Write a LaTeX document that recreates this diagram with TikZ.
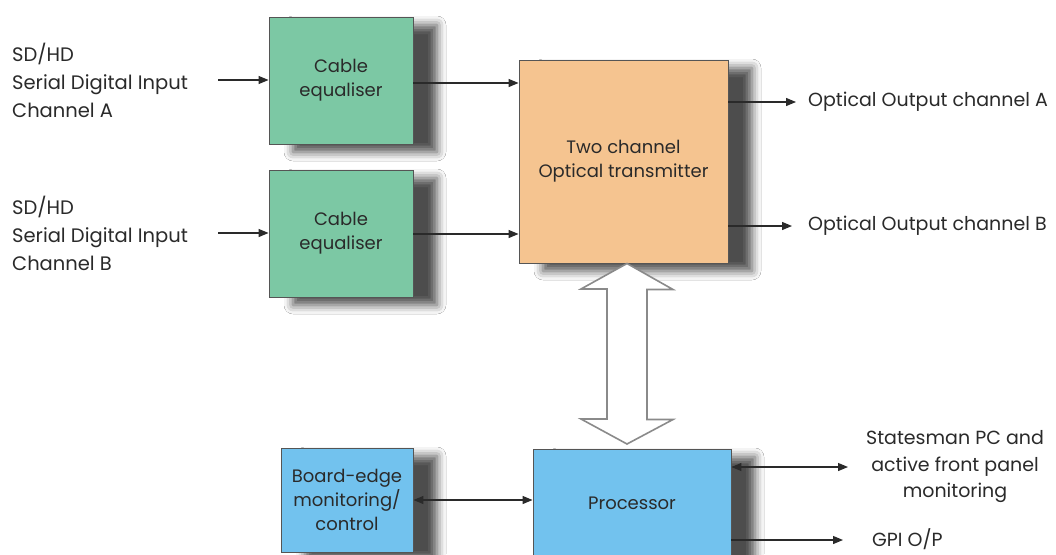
\documentclass[tikz,border=0pt]{standalone}
\usepackage{fontspec}
\setmainfont{Poppins}
\usetikzlibrary{shadows.blur,arrows.meta}
\definecolor{eqgreen}{HTML}{7CC8A4}
\definecolor{txorange}{HTML}{F5C490}
\definecolor{procblue}{HTML}{72C2EE}
\definecolor{ink}{HTML}{2A2A2A}
\definecolor{hollow}{HTML}{8A8A8A}
\tikzset{
  blk/.style={draw=ink!80, line width=0.9pt, align=center, text=ink, font=\fontsize{18}{24}\selectfont,
    blur shadow={shadow xshift=24pt, shadow yshift=-8pt, shadow blur radius=9pt, shadow opacity=70}},
  lbl/.style={text=ink, font=\fontsize{19}{28}\selectfont, inner sep=0pt},
  arr/.style={draw=ink, line width=1.2pt, -{Triangle[length=10pt,width=8pt]}},
  darr/.style={draw=ink, line width=1.2pt, {Triangle[length=10pt,width=8pt]}-{Triangle[length=10pt,width=8pt]}},
}
\begin{document}
\begin{tikzpicture}[x=1pt,y=-1pt]
\useasboundingbox (0,0) rectangle (1056,554);
\clip (0,0) rectangle (1056,554);
\fill[white] (0,0) rectangle (1056,554);

% boxes
\node[blk, fill=eqgreen, minimum width=144pt, minimum height=127pt] (eqA) at (341,80.5) {Cable\\equaliser};
\node[blk, fill=eqgreen, minimum width=144pt, minimum height=127pt] (eqB) at (341,233.5) {Cable\\equaliser};
\node[blk, fill=txorange, minimum width=209pt, minimum height=203pt] (tx) at (623.5,161.5) {Two channel\\Optical transmitter};
\node[blk, fill=procblue, minimum width=198pt, minimum height=108pt] (proc) at (632,503) {Processor};
\node[blk, fill=procblue, minimum width=132pt, minimum height=104pt] (board) at (347,500) {Board-edge\\monitoring/\\control};

% left labels
\node[lbl, anchor=west, align=left, font=\fontsize{19.5}{28}\selectfont] (inA) at (12,80) {SD/HD\\Serial Digital Input\\Channel A};
\node[lbl, anchor=west, align=left, font=\fontsize{19.5}{28}\selectfont] (inB) at (12,233) {SD/HD\\Serial Digital Input\\Channel B};
\coordinate (sA) at (218,80);
\coordinate (sB) at (218,233);
\draw[arr] (sA) -- (sA -| eqA.west);
\draw[arr] (sB) -- (sB -| eqB.west);

% equaliser to transmitter
\coordinate (cA) at (413,83);
\coordinate (cB) at (413,234);
\draw[arr] (cA) -- (cA -| tx.west);
\draw[arr] (cB) -- (cB -| tx.west);

% outputs
\node[lbl, anchor=west] (outA) at (808,102) {Optical Output channel A};
\node[lbl, anchor=west] (outB) at (808,226) {Optical Output channel B};
\draw[arr] (tx.east |- outA) -- ([xshift=-12pt]outA.west);
\draw[arr] (tx.east |- outB) -- ([xshift=-16pt]outB.west);

% hollow double arrow
\coordinate (hT) at (627,263.5);
\coordinate (hB) at (627,444);
\draw[hollow, line width=1.6pt, fill=white, line join=miter]
  (hT) -- ++(46,26) -- ++(-26,0) -- ++(0,130) -- ++(26,0) -- (hB)
  -- ++(-46,-25) -- ++(26,0) -- ++(0,-130) -- ++(-26,0) -- cycle;

% board <-> processor
\draw[darr] (board.east) -- (board.east -| proc.west);

% right side
\node[lbl, align=center, font=\fontsize{19}{26.5}\selectfont] (stm) at (955,467) {Statesman PC and\\active front panel\\monitoring};
\coordinate (eS) at (848,467);
\draw[darr] (eS -| proc.east) -- (eS);
\node[lbl, anchor=west] (gpi) at (872,539) {GPI O/P};
\coordinate (eG) at (843,540);
\draw[arr] (eG -| proc.east) -- (eG);
\end{tikzpicture}
\end{document}
